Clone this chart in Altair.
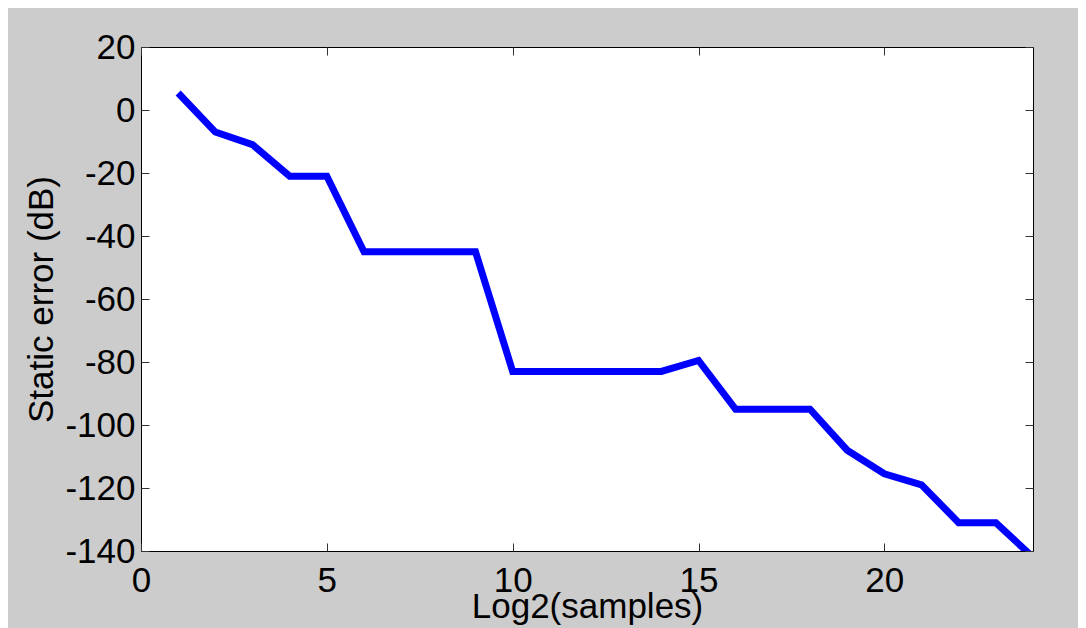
import altair as alt
import pandas as pd

log2_samples = list(range(1, 25))
static_error_db = [5.4, -7, -11, -21, -21, -45, -45, -45, -45, -83, -83, -83, -83, -83,
                   -79.5, -95, -95, -95, -108, -115.5, -119, -131, -131, -142]
x_ticks = [0, 5, 10, 15, 20]
y_ticks = [-140, -120, -100, -80, -60, -40, -20, 0, 20]

df = pd.DataFrame({"x": log2_samples, "y": static_error_db})

FONT = "Liberation Sans"
FS = 35
TICK = "#333333"

xscale = alt.Scale(domain=[0, 24], nice=False, zero=False)
yscale = alt.Scale(domain=[-140, 20], nice=False, zero=False)

main = alt.Chart(df).mark_line(color="#0000ff", strokeWidth=7, clip=True, strokeJoin="miter").encode(
    x=alt.X("x:Q", scale=xscale, axis=alt.Axis(
        orient="bottom", values=x_ticks, offset=-8, tickSize=8, domain=False, grid=False,
        labelPadding=12, labelFontSize=FS, labelFont=FONT, labelColor="black", tickColor=TICK,
        labelFlush=False, labelOverlap=False, labelExpr="toString(datum.value)",
        title="Log2(samples)", titleFontSize=FS, titleFont=FONT, titleFontWeight="normal",
        titleColor="black", titleBaseline="alphabetic", titleY=74)),
    y=alt.Y("y:Q", scale=yscale, axis=alt.Axis(
        orient="left", values=y_ticks, offset=-8, tickSize=8, domain=False, grid=False,
        labelPadding=6, labelFontSize=FS, labelFont=FONT, labelColor="black", tickColor=TICK,
        labelFlush=False, labelOverlap=False, labelExpr="toString(datum.value)",
        title="Static error (dB)", titleFontSize=FS, titleFont=FONT, titleFontWeight="normal",
        titleColor="black", titleBaseline="alphabetic", titleX=-97)),
)

ghost = alt.Chart(df).mark_line(strokeOpacity=0).encode(
    x=alt.X("x:Q", scale=xscale, axis=alt.Axis(
        orient="top", values=x_ticks, offset=-8, tickSize=8, domain=False, grid=False,
        labels=False, tickColor=TICK, title=None)),
    y=alt.Y("y:Q", scale=yscale, axis=alt.Axis(
        orient="right", values=y_ticks, offset=-8, tickSize=8, domain=False, grid=False,
        labels=False, tickColor=TICK, title=None)),
)

chart = alt.layer(main, ghost).resolve_axis(x="independent", y="independent").properties(
    width=892, height=504,
    autosize=alt.AutoSizeParams(type="none"),
    padding={"left": 133, "top": 39, "right": 45, "bottom": 77},
    background="#cccccc",
).configure_view(fill="white", stroke="black", strokeWidth=1)

chart.save("out.html", embed_options={"renderer": "svg", "actions": False})
